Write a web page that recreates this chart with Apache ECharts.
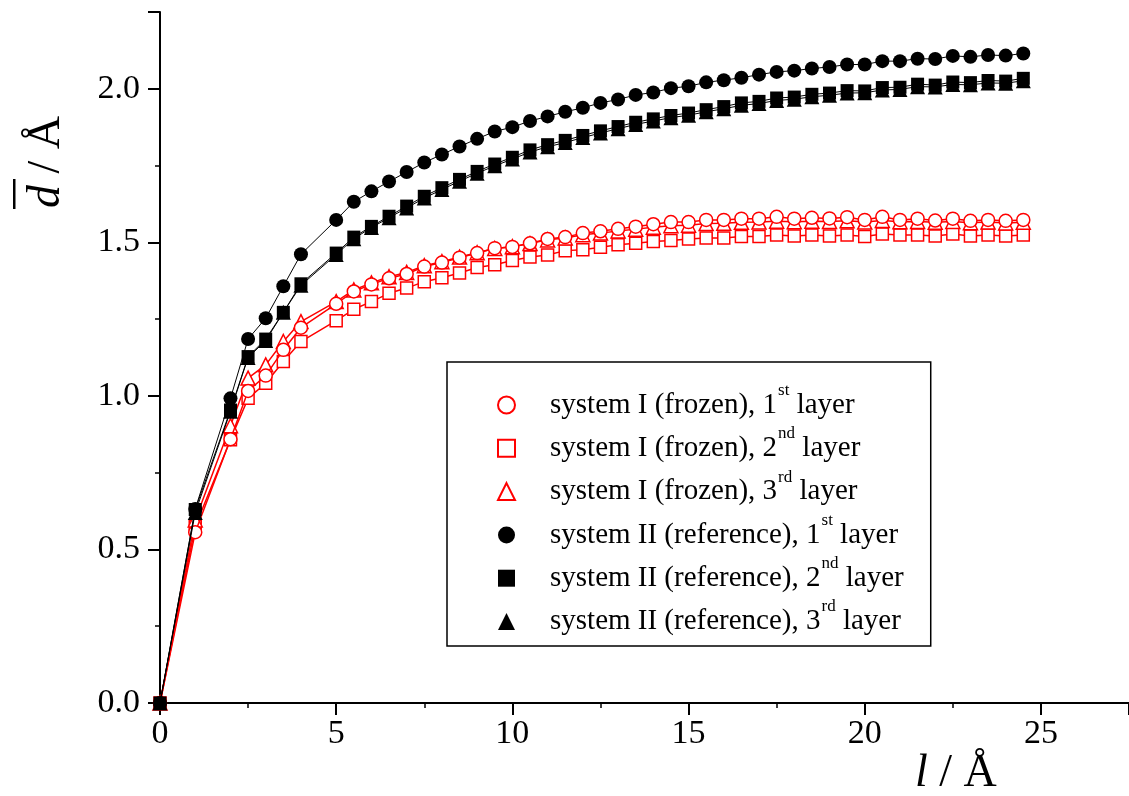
<!DOCTYPE html>
<html>
<head>
<meta charset="utf-8">
<script src="https://cdn.jsdelivr.net/npm/echarts@6/dist/echarts.min.js"></script>
<style>
  html, body { margin: 0; padding: 0; background: #fff; }
  #chart { width: 1129px; height: 796px; }
</style>
</head>
<body>
<div id="chart"></div>
<script>
// l / Å positions
var lVals = [0, 1, 2, 2.5, 3, 3.5, 4,
  5, 5.5, 6, 6.5, 7, 7.5, 8, 8.5, 9, 9.5,
  10, 10.5, 11, 11.5, 12, 12.5, 13, 13.5, 14, 14.5, 15, 15.5, 16, 16.5, 17, 17.5, 18, 18.5,
  19, 19.5, 20, 20.5, 21, 21.5, 22, 22.5, 23, 23.5, 24, 24.5];

// system I (frozen)
var frozen1 = [0, 0.556, 0.859, 1.016, 1.066, 1.150, 1.222,
  1.300, 1.340, 1.363, 1.383, 1.397, 1.421, 1.434, 1.450, 1.465, 1.481,
  1.485, 1.497, 1.511, 1.517, 1.530, 1.536, 1.544, 1.551, 1.559, 1.566, 1.566, 1.573, 1.573, 1.577, 1.577, 1.583, 1.577, 1.580,
  1.578, 1.582, 1.573, 1.583, 1.573, 1.577, 1.571, 1.577, 1.570, 1.573, 1.570, 1.573];
var frozen2 = [0, 0.575, 0.857, 0.992, 1.041, 1.112, 1.177,
  1.245, 1.282, 1.307, 1.334, 1.351, 1.372, 1.385, 1.400, 1.418, 1.427,
  1.441, 1.452, 1.459, 1.473, 1.476, 1.484, 1.492, 1.497, 1.503, 1.506, 1.511, 1.514, 1.514, 1.519, 1.519, 1.524, 1.521, 1.524,
  1.521, 1.524, 1.519, 1.527, 1.524, 1.524, 1.521, 1.527, 1.521, 1.524, 1.521, 1.524];
var frozen3 = [0, 0.596, 0.903, 1.058, 1.101, 1.177, 1.242,
  1.307, 1.345, 1.368, 1.388, 1.402, 1.424, 1.437, 1.452, 1.466, 1.480,
  1.486, 1.496, 1.508, 1.514, 1.525, 1.530, 1.537, 1.543, 1.549, 1.554, 1.556, 1.561, 1.562, 1.565, 1.566, 1.569, 1.567, 1.569,
  1.568, 1.570, 1.566, 1.571, 1.567, 1.568, 1.565, 1.568, 1.564, 1.566, 1.563, 1.565];

// system II (reference)
var ref1 = [0, 0.632, 0.992, 1.185, 1.253, 1.357, 1.461,
  1.573, 1.632, 1.666, 1.698, 1.729, 1.760, 1.786, 1.812, 1.837, 1.861,
  1.875, 1.895, 1.910, 1.925, 1.938, 1.954, 1.965, 1.980, 1.988, 2.002, 2.008, 2.021, 2.028, 2.036, 2.046, 2.055, 2.059, 2.066,
  2.071, 2.079, 2.079, 2.090, 2.090, 2.098, 2.097, 2.107, 2.104, 2.110, 2.108, 2.115];
var ref2 = [0, 0.630, 0.954, 1.128, 1.185, 1.272, 1.365,
  1.465, 1.517, 1.552, 1.585, 1.618, 1.650, 1.678, 1.705, 1.731, 1.755,
  1.777, 1.801, 1.818, 1.832, 1.848, 1.863, 1.877, 1.891, 1.902, 1.913, 1.921, 1.932, 1.942, 1.954, 1.959, 1.970, 1.973, 1.982,
  1.986, 1.994, 1.993, 2.004, 2.005, 2.015, 2.012, 2.022, 2.020, 2.027, 2.025, 2.034];
var ref3 = [0, 0.620, 0.950, 1.125, 1.180, 1.272, 1.360,
  1.460, 1.512, 1.548, 1.580, 1.612, 1.644, 1.672, 1.699, 1.725, 1.749,
  1.771, 1.794, 1.811, 1.825, 1.841, 1.856, 1.870, 1.884, 1.895, 1.906, 1.914, 1.925, 1.935, 1.946, 1.952, 1.962, 1.966, 1.974,
  1.979, 1.986, 1.987, 1.996, 1.998, 2.007, 2.006, 2.014, 2.013, 2.019, 2.018, 2.026];

var seriesNames = [
  'system I (frozen), 1st layer',
  'system I (frozen), 2nd layer',
  'system I (frozen), 3rd layer',
  'system II (reference), 1st layer',
  'system II (reference), 2nd layer',
  'system II (reference), 3rd layer'
];
var legendRich = {
  'system I (frozen), 1st layer': '{t|system I (frozen), 1}{s|st}{t| layer}',
  'system I (frozen), 2nd layer': '{t|system I (frozen), 2}{s|nd}{t| layer}',
  'system I (frozen), 3rd layer': '{t|system I (frozen), 3}{s|rd}{t| layer}',
  'system II (reference), 1st layer': '{t|system II (reference), 1}{s|st}{t| layer}',
  'system II (reference), 2nd layer': '{t|system II (reference), 2}{s|nd}{t| layer}',
  'system II (reference), 3rd layer': '{t|system II (reference), 3}{s|rd}{t| layer}'
};

var FONT = '"Liberation Serif", "Times New Roman", serif';
var RED = '#ff0000';

function pairs(ys) {
  return lVals.map(function (x, i) { return [x, ys[i]]; });
}

function makeSeries(name, ys, symbol, filled, color, lineWidth, z) {
  var size = filled ? 14 : 13;
  if (symbol === 'triangle') size += 1;
  if (symbol === 'rect') size -= 1;
  return {
    name: name,
    type: 'line',
    data: pairs(ys),
    symbol: symbol,
    symbolSize: size,
    showSymbol: true,
    z: z,
    lineStyle: { color: color, width: lineWidth },
    itemStyle: filled
      ? { color: color, borderColor: color, borderWidth: 0 }
      : { color: '#fff', borderColor: color, borderWidth: 1.5 },
    emphasis: { disabled: true }
  };
}

var chart = echarts.init(document.getElementById('chart'));

var option = {
  animation: false,
  backgroundColor: '#fff',
  grid: { left: 160, right: 0, top: 12, bottom: 93 },
  xAxis: {
    type: 'value',
    min: 0,
    max: 27.5,
    interval: 5,
    axisLine: { lineStyle: { color: '#000', width: 2 } },
    axisTick: { length: 12, lineStyle: { color: '#000', width: 2 } },
    minorTick: { show: true, splitNumber: 2, length: 5, lineStyle: { color: '#000', width: 1.5 } },
    splitLine: { show: false },
    axisLabel: { fontFamily: FONT, fontSize: 34, color: '#000', margin: 14, showMaxLabel: false }
  },
  yAxis: {
    type: 'value',
    min: 0,
    max: 2.25,
    interval: 0.5,
    axisLine: { show: true, lineStyle: { color: '#000', width: 2 } },
    axisTick: { show: true, length: 12, lineStyle: { color: '#000', width: 2 } },
    minorTick: { show: true, splitNumber: 2, length: 5, lineStyle: { color: '#000', width: 1.5 } },
    splitLine: { show: false },
    axisLabel: {
      fontFamily: FONT, fontSize: 34, color: '#000', margin: 20, showMaxLabel: false,
      formatter: function (v) { return v.toFixed(1); }
    }
  },
  legend: {
    orient: 'vertical',
    left: 447,
    top: 362,
    padding: [20, 27, 10, 50],
    borderColor: '#000',
    borderWidth: 1.5,
    itemGap: 5.8,
    itemWidth: 17,
    itemHeight: 17,
    selectedMode: false,
    data: [
      { name: seriesNames[0], icon: 'circle' },
      { name: seriesNames[1], icon: 'rect' },
      { name: seriesNames[2], icon: 'triangle' },
      { name: seriesNames[3], icon: 'circle' },
      { name: seriesNames[4], icon: 'rect' },
      { name: seriesNames[5], icon: 'triangle' }
    ],
    formatter: function (name) { return legendRich[name]; },
    textStyle: {
      padding: [0, 0, 0, 30],
      rich: {
        t: { fontFamily: FONT, fontSize: 29, color: '#000', lineHeight: 46, verticalAlign: 'middle' },
        s: { fontFamily: FONT, fontSize: 17, color: '#000', lineHeight: 17, verticalAlign: 'top', padding: [0, 0, 0, 1] }
      }
    }
  },
  graphic: [
    {
      type: 'group',
      x: 45,
      y: 160,
      rotation: Math.PI / 2,
      children: [
        {
          type: 'text',
          x: -2,
          y: 2,
          style: {
            text: '{i|d} / Å',
            font: '46px ' + FONT,
            fill: '#000',
            align: 'center',
            verticalAlign: 'middle',
            rich: { i: { fontFamily: FONT, fontSize: 46, fontStyle: 'italic', fill: '#000' } }
          }
        },
        {
          type: 'rect',
          shape: { x: -49, y: -32, width: 30, height: 2.5 },
          style: { fill: '#000' }
        }
      ]
    },
    {
      type: 'text',
      x: 915,
      y: 774,
      style: {
        text: '{i|l} / Å',
        font: '46px ' + FONT,
        fill: '#000',
        align: 'left',
        verticalAlign: 'middle',
        rich: { i: { fontFamily: FONT, fontSize: 46, fontStyle: 'italic', fill: '#000' } }
      }
    }
  ],
  series: [
    makeSeries(seriesNames[1], frozen2, 'rect', false, RED, 1.5, 2),
    makeSeries(seriesNames[2], frozen3, 'triangle', false, RED, 1.5, 2),
    makeSeries(seriesNames[0], frozen1, 'circle', false, RED, 1.5, 3),
    makeSeries(seriesNames[5], ref3, 'triangle', true, '#000', 1, 4),
    makeSeries(seriesNames[4], ref2, 'rect', true, '#000', 1, 5),
    makeSeries(seriesNames[3], ref1, 'circle', true, '#000', 1, 5)
  ]
};

chart.setOption(option);
</script>
</body>
</html>
